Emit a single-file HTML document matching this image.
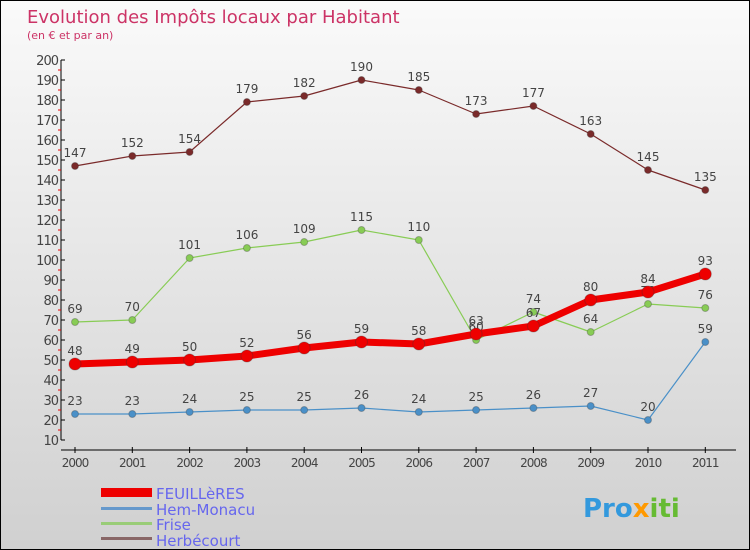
<!DOCTYPE html>
<html><head><meta charset="utf-8"><style>
body{margin:0}
#c{width:748px;height:548px;border:1px solid #000;background:linear-gradient(#fafafa,#d0d0d0);position:relative;font-family:"DejaVu Sans","Liberation Sans",sans-serif;overflow:hidden}
</style></head><body>
<div id="c">
<svg id="s" width="748" height="548" xmlns="http://www.w3.org/2000/svg">
<text x="26" y="22" font-size="18" fill="#cc3366">Evolution des Impôts locaux par Habitant</text>
<text x="26" y="38" font-size="11" fill="#cc3366">(en € et par an)</text>
<g id="axes"></g><g id="series"></g>
<g>
<rect x="100" y="487" width="51" height="9" fill="#ee0000"/>
<text x="155" y="498" font-size="15" fill="#6666ee">FEUILLèRES</text>
<rect x="100" y="506" width="51" height="3" fill="#6699cc"/>
<text x="155" y="514" font-size="15" fill="#6666ee">Hem-Monacu</text>
<rect x="100" y="521" width="51" height="3" fill="#99cc77"/>
<text x="155" y="529" font-size="15" fill="#6666ee">Frise</text>
<rect x="100" y="536" width="51" height="3" fill="#886666"/>
<text x="155" y="545" font-size="15" fill="#6666ee">Herbécourt</text>
</g>
<text x="582" y="516" font-size="26" font-weight="bold" fill="#3399dd">Pro<tspan fill="#ff9900">x</tspan><tspan fill="#66bb33">iti</tspan></text>
</svg>
</div>
<script>
const years=[2000,2001,2002,2003,2004,2005,2006,2007,2008,2009,2010,2011];
const feuilleres=[48,49,50,52,56,59,58,63,67,80,84,93];
const hem=[23,23,24,25,25,26,24,25,26,27,20,59];
const frise=[69,70,101,106,109,115,110,60,74,64,78,76];
const herb=[147,152,154,179,182,190,185,173,177,163,145,135];
const yTicks=[10,20,30,40,50,60,70,80,90,100,110,120,130,140,150,160,170,180,190,200];
const NS="http://www.w3.org/2000/svg";
const X=i=>74+i*57.3, Y=v=>439-(v-10)*2;
function mk(t,a,p){const e=document.createElementNS(NS,t);for(const k in a)e.setAttribute(k,a[k]);p.appendChild(e);return e;}
const ax=document.getElementById('axes'), sg=document.getElementById('series');
let l=mk('line',{x1:60,y1:59,x2:60,y2:439,stroke:'#000'},ax);

l=mk('line',{x1:60,y1:449,x2:735,y2:449,stroke:'#000'},ax);

yTicks.forEach(v=>{
 mk('line',{x1:60,y1:Y(v),x2:64,y2:Y(v),stroke:'#000'},ax);
 if(v<200)mk('line',{x1:57,y1:Y(v+5),x2:60,y2:Y(v+5),stroke:'#e00'},ax);
 const t=mk('text',{x:57,y:Y(v)+5,'font-size':13,'text-anchor':'end',fill:'#444','letter-spacing':'-1'},ax);t.textContent=v;
 
});
years.forEach((y,i)=>{
 mk('line',{x1:X(i),y1:446,x2:X(i),y2:452,stroke:'#000'},ax);
 const t=mk('text',{x:X(i),y:466,'font-size':12,'text-anchor':'middle',fill:'#444','letter-spacing':'-1'},ax);t.textContent=y;
 
});
function series(d,col,w,r,name){
 const g=mk('g',{},sg);
 mk('polyline',{points:d.map((v,i)=>X(i)+','+Y(v)).join(' '),fill:'none',stroke:col,'stroke-width':w,'stroke-linejoin':'round'},g);
 d.forEach((v,i)=>{
  const c=mk('circle',{cx:X(i),cy:Y(v),r:r,fill:col,stroke:'#333','stroke-opacity':0.3},g);
  
  const t=mk('text',{x:X(i),y:Y(v)-9,'font-size':12,'text-anchor':'middle',fill:'#444'},g);t.textContent=v;
  
 });
}
series(herb,'#7a2a2a',1.2,3.5,'herbecourt');
series(frise,'#88cc55',1.2,3.5,'frise');
series(hem,'#4a90c8',1.2,3.5,'hem-monacu');
series(feuilleres,'#ee0000',7,6,'feuilleres');
</script>
</body></html>
